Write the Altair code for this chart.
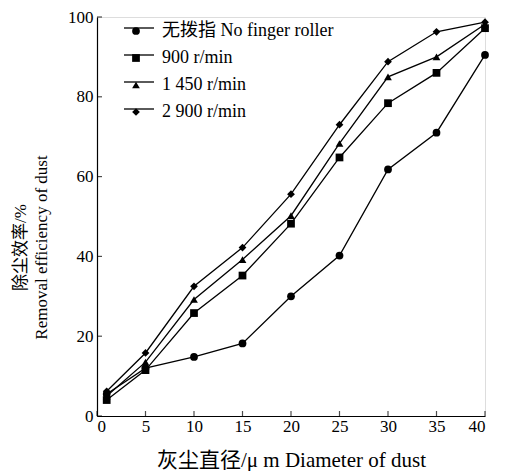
import altair as alt
import pandas as pd

diameters = [1, 5, 10, 15, 20, 25, 30, 35, 40]
series_names = ["无拨指  No finger roller", "900 r/min", "1 450 r/min", "2 900 r/min"]
no_finger = [5.5, 12.0, 14.8, 18.2, 30.0, 40.2, 61.8, 71.0, 90.5]
rpm_900 = [4.0, 11.5, 25.8, 35.2, 48.2, 64.8, 78.4, 86.0, 97.2]
rpm_1450 = [5.0, 13.5, 29.2, 39.2, 50.2, 68.3, 85.0, 90.0, 98.2]
rpm_2900 = [6.2, 15.8, 32.5, 42.2, 55.6, 73.0, 88.8, 96.3, 98.7]
x_ticks = [0, 5, 10, 15, 20, 25, 30, 35, 40]
y_ticks = [0, 20, 40, 60, 80, 100]

rows = []
for name, vals in zip(series_names, [no_finger, rpm_900, rpm_1450, rpm_2900]):
    for d, v in zip(diameters, vals):
        rows.append({"d": d, "eff": v, "series": name, "line_series": name})
df = pd.DataFrame(rows)

SERIF = "Liberation Serif, Noto Sans CJK SC, serif"
marker_shapes = ["circle", "square", "triangle-up", "diamond"]

x_enc = alt.X("d:Q", scale=alt.Scale(domain=[0, 40], nice=False),
              axis=alt.Axis(values=x_ticks, title="灰尘直径/μ m   Diameter of   dust",
                            grid=False, ticks=False, domainColor="black", domainWidth=1.2,
                            labelFont=SERIF, labelFontSize=17, labelColor="black",
                            labelPadding=2, titleFont=SERIF, titleFontSize=21,
                            titleFontWeight="normal", titleColor="black",
                            titleX=194, titleY=33, titleBaseline="top"))
y_enc = alt.Y("eff:Q", scale=alt.Scale(domain=[0, 100], nice=False),
              axis=alt.Axis(values=y_ticks, title=["除尘效率/%", "Removal efficiency of dust"],
                            grid=False, ticks=False, domainColor="black", domainWidth=1.2,
                            labelFont=SERIF, labelFontSize=17, labelColor="black",
                            labelPadding=4, titleFont=SERIF, titleFontSize=17,
                            titleFontWeight="normal", titleColor="black",
                            titleLineHeight=21, titleX=-85, titleY=230,
                            titleBaseline="top", titleAlign="center"))

lines = alt.Chart(df).mark_line(strokeWidth=1.3).encode(
    x=x_enc, y=y_enc,
    color=alt.Color("line_series:N", sort=series_names,
                    scale=alt.Scale(range=["black", "black", "black", "black"]),
                    legend=alt.Legend(title=None, orient="none", legendX=26, legendY=-5,
                                      symbolType="stroke", symbolSize=900,
                                      symbolStrokeWidth=1.3, symbolStrokeColor="black",
                                      labelFont=SERIF, labelFontSize=18, labelOpacity=0,
                                      labelExpr="' '",
                                      labelLimit=300, rowPadding=2, padding=0)))

points = alt.Chart(df).mark_point(filled=True, color="black", opacity=1, size=60).encode(
    x="d:Q", y="eff:Q",
    shape=alt.Shape("series:N", sort=series_names,
                    scale=alt.Scale(domain=series_names, range=marker_shapes),
                    legend=alt.Legend(title=None, orient="none", legendX=30, legendY=5,
                                      labelFont=SERIF, labelFontSize=18, labelColor="black",
                                      labelLimit=300, symbolSize=60, symbolOpacity=1,
                                      symbolFillColor="black", symbolStrokeColor="black",
                                      symbolStrokeWidth=0.5,
                                      labelOffset=17, rowPadding=9, padding=0)))

tick_df = pd.DataFrame({"t": x_ticks})
xticks = alt.Chart(tick_df).mark_tick(color="black", orient="vertical", size=5,
                                      thickness=1.2, yOffset=-2.5).encode(
    x="t:Q", y=alt.datum(0))
ytick_df = pd.DataFrame({"t": y_ticks})
yticks = alt.Chart(ytick_df).mark_tick(color="black", orient="horizontal", size=5,
                                       thickness=1.2, xOffset=2.5).encode(
    y="t:Q", x=alt.datum(0))

chart = alt.layer(lines, points, xticks, yticks).properties(
    width=388, height=399,
    autosize=alt.AutoSizeParams(type="none"),
    padding={"left": 89, "top": 9, "right": 15, "bottom": 58},
).configure_view(stroke=None).configure(background="white")

chart.save("out.html", embed_options={"renderer": "svg", "actions": False})
